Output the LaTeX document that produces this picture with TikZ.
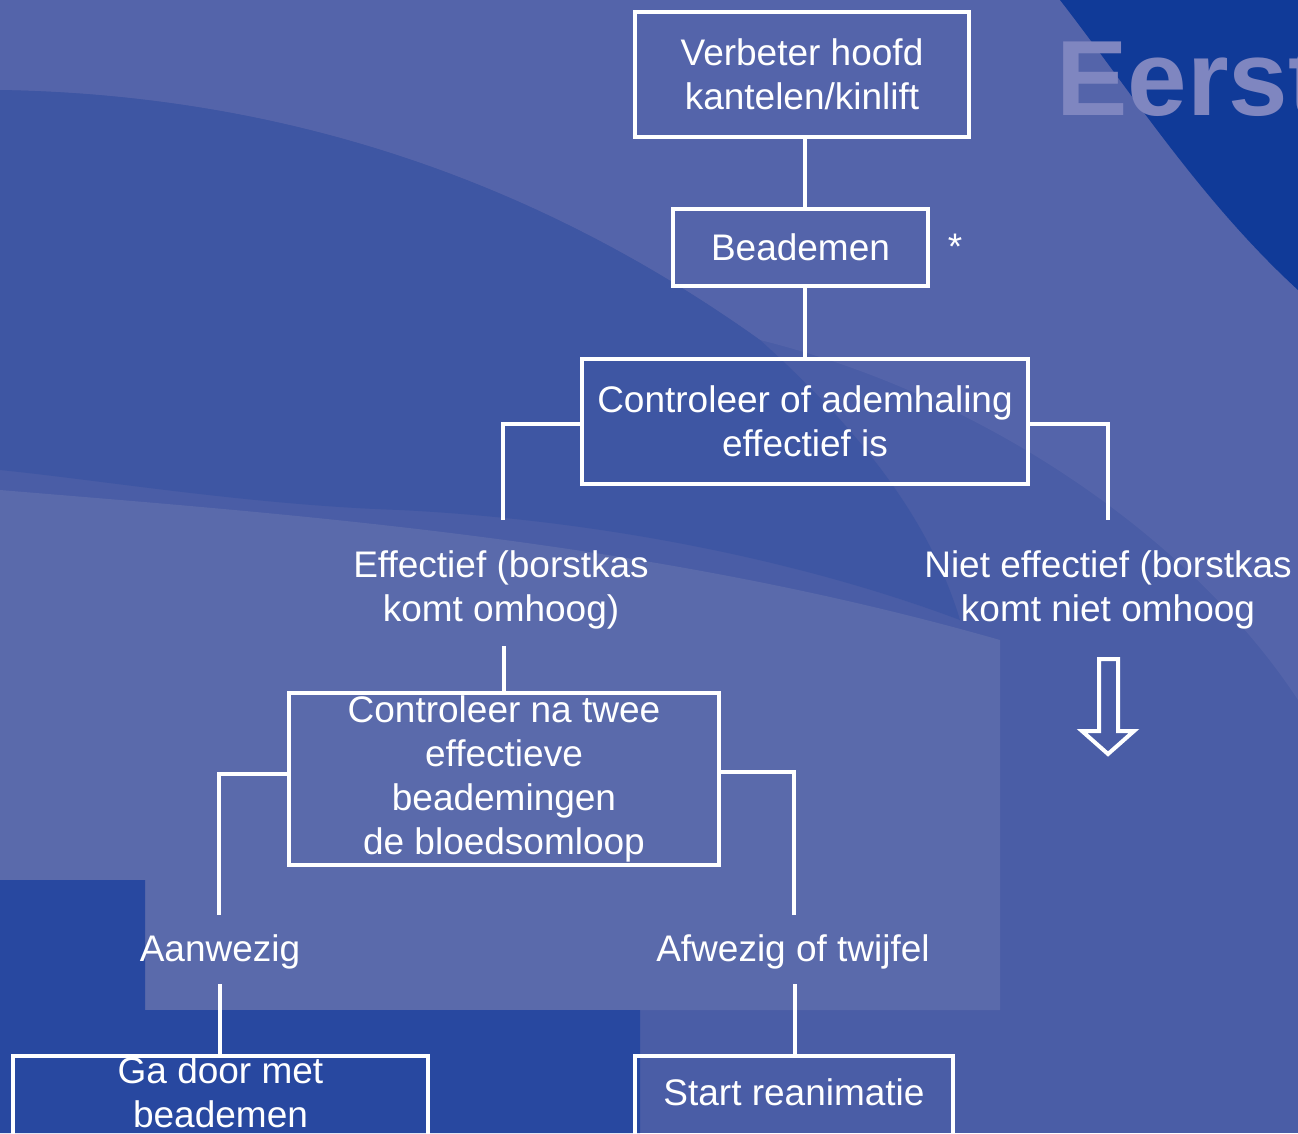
\documentclass[tikz,border=0pt]{standalone}
\usepackage{fontspec}
\setmainfont{Liberation Sans}
\definecolor{bgbase}{RGB}{74,93,166}
\definecolor{bgtop}{RGB}{84,100,170}
\definecolor{bglow}{RGB}{90,106,171}
\definecolor{bgband}{RGB}{62,86,163}
\definecolor{bgdeep}{RGB}{16,58,152}
\definecolor{bgcorner}{RGB}{40,72,160}
\definecolor{titlecol}{RGB}{127,134,192}
\begin{document}
\begin{tikzpicture}[x=1pt,y=-1pt,
  box/.style={draw=white, line width=4pt, inner sep=0pt, align=center, text=white, font=\fontsize{37}{44}\selectfont},
  lbl/.style={text=white, align=center, inner sep=0pt, font=\fontsize{37}{44}\selectfont},
  conn/.style={draw=white, line width=4pt, line join=miter}]
\useasboundingbox (0,0) rectangle (1298,1133);
\clip (0,0) rectangle (1298,1133);
% background
\fill[bgbase] (0,0) rectangle (1298,1133);
\fill[bglow] (0,490) .. controls (300,515) and (650,540) .. (1000,640) -- (1000,1010) -- (145,1010) -- (145,880) -- (0,880) -- cycle;
\fill[bgtop] (0,0) -- (1060,0) .. controls (1130,90) and (1200,200) .. (1298,290) -- (1298,700) .. controls (1200,550) and (1000,400) .. (760,340) .. controls (550,190) and (300,95) .. (0,90) -- cycle;
\fill[bgband] (0,90) .. controls (300,95) and (550,190) .. (760,340) .. controls (860,430) and (930,520) .. (960,620) .. controls (800,560) and (600,520) .. (400,510) .. controls (250,505) and (100,480) .. (0,470) -- cycle;
\fill[bgdeep] (1060,0) .. controls (1130,90) and (1200,200) .. (1298,290) -- (1298,0) -- cycle;
\fill[bgcorner] (0,880) -- (145,880) -- (145,1010) -- (640,1010) -- (640,1133) -- (0,1133) -- cycle;
% title
\node[anchor=base west, inner sep=0pt, text=titlecol, font=\fontsize{107}{120}\selectfont\bfseries] (title) at (1056,115) {Eerst};
% boxes
\node[box, minimum width=334pt, minimum height=125pt] (b1) at (802,74.5) {Verbeter hoofd\\kantelen/kinlift};
\node[box, minimum width=255pt, minimum height=77pt] (b2) at (800.5,247.5) {Beademen};
\node[lbl, anchor=base] (star) at (955,259) {*};
\node[box, minimum width=446pt, minimum height=125pt] (b3) at (805,421.5) {Controleer of ademhaling\\effectief is};
\node[lbl] (eff) at (501,590) {Effectief (borstkas\\komt omhoog)};
\node[lbl] (neff) at (1108,590) {Niet effectief (borstkas\\komt niet omhoog};
\node[box, minimum width=430pt, minimum height=172pt] (b4) at (504,779) {Controleer na twee\\effectieve\\beademingen\\de bloedsomloop};
\node[lbl] (aan) at (220,952) {Aanwezig};
\node[lbl] (afw) at (793,952) {Afwezig of twijfel};
\node[box, minimum width=415pt, minimum height=84pt] (b5) at (220.5,1098) {Ga door met\\beademen\rule[-12pt]{0pt}{12pt}};
\node[box, minimum width=318pt, minimum height=84pt] (b6) at (794,1098) {Start reanimatie\rule[-12pt]{0pt}{12pt}};
% connector end points
\coordinate (c3l) at (503,520);
\coordinate (c3r) at (1108,520);
\coordinate (ceff) at (504,646);
\coordinate (c4l) at (219,915);
\coordinate (c4r) at (794,915);
\coordinate (caan) at (220,984);
\coordinate (cafw) at (795,984);
% connectors
\draw[conn] ([xshift=3pt]b1.south) -- ([xshift=3pt]b1.south |- b2.north);
\draw[conn] ([xshift=4.5pt]b2.south) -- ([xshift=4.5pt]b2.south |- b3.north);
\draw[conn] ([yshift=-2.5pt]b3.west) -| (c3l);
\draw[conn] ([yshift=-2.5pt]b3.east) -| (c3r);
\draw[conn] (ceff) -- (ceff |- b4.north);
\draw[conn] ([yshift=5pt]b4.west) -| (c4l);
\draw[conn] ([yshift=7pt]b4.east) -| (c4r);
\draw[conn] (caan) -- (caan |- b5.north);
\draw[conn] (cafw) -- (cafw |- b6.north);
% hollow down arrow
\draw[white, line width=4pt, line join=miter] (1099,659) -- (1118,659) -- (1118,731) -- (1134,731) -- (1108,754) -- (1082,731) -- (1099,731) -- cycle;
\end{tikzpicture}
\end{document}
